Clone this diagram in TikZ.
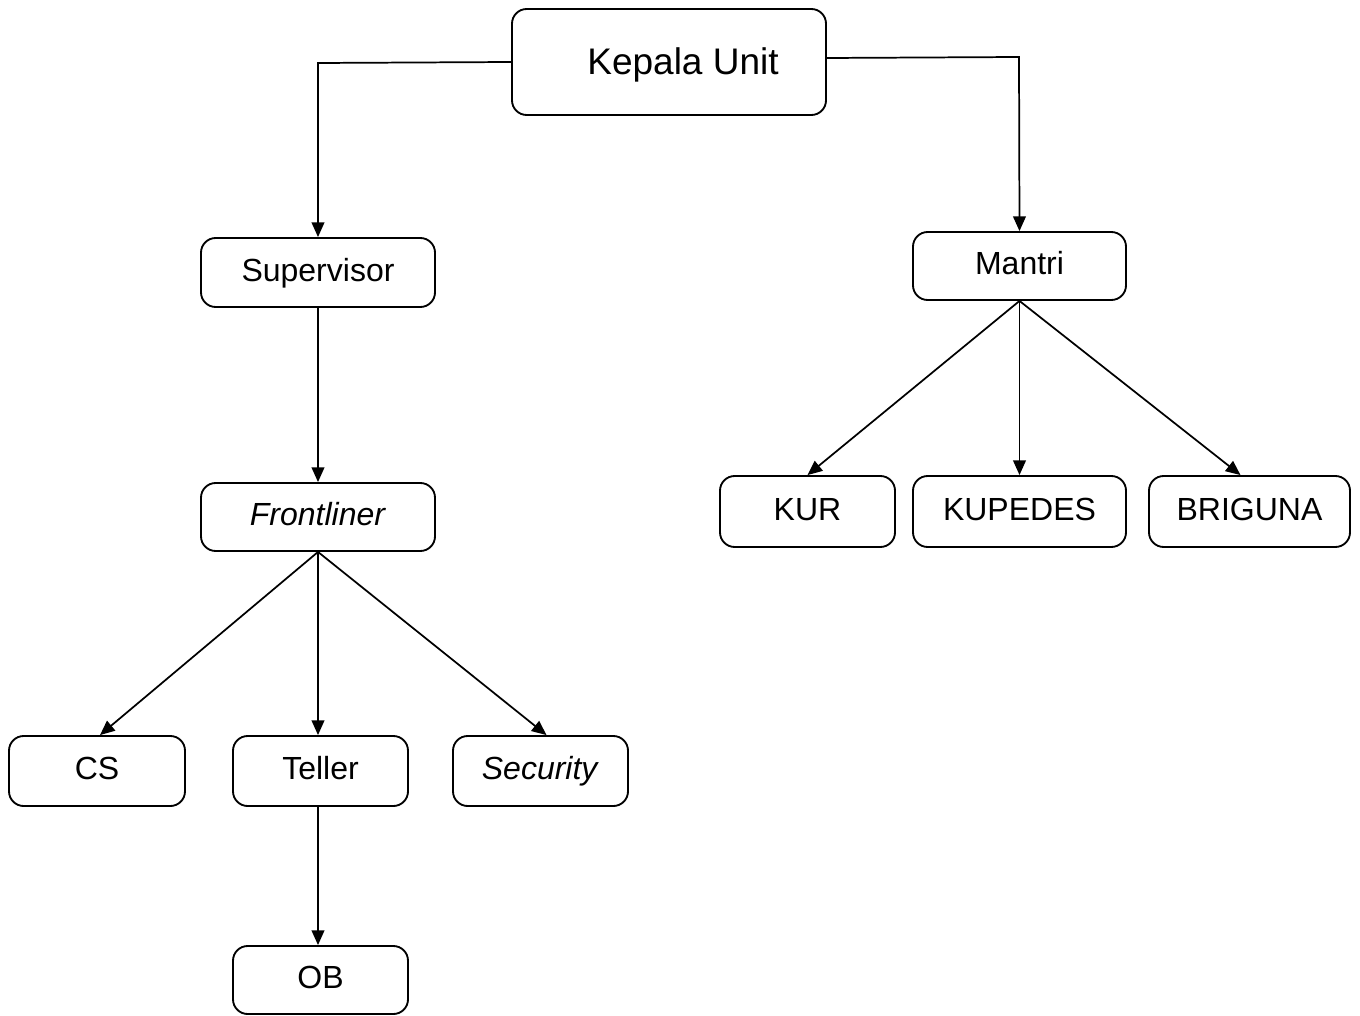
\documentclass[tikz,border=0pt]{standalone}
\usepackage{fontspec}
\setmainfont{Liberation Sans}
\usetikzlibrary{arrows.meta}
\begin{document}
\begin{tikzpicture}[x=0.75pt,y=-0.75pt,
  box/.style={draw=black,line width=1.4pt,rounded corners=11pt,inner sep=0pt,
    font=\fontsize{24}{28}\selectfont,text height=18pt,text depth=5.2pt},
  arr/.style={line width=1.3pt,-{Triangle[length=11pt,width=9.5pt]}}]
\useasboundingbox (0,0) rectangle (1360,1016);
\def\u{0.75pt}
\node[box,minimum width=314*\u,minimum height=106*\u,font=\fontsize{27.75}{32}\selectfont,text height=22pt,text depth=2.5pt] (kepala) at (669,62) {\hspace*{21pt}Kepala Unit};
\node[box,minimum width=234*\u,minimum height=69*\u] (sup) at (318,272.5) {Supervisor};
\node[box,minimum width=234*\u,minimum height=68*\u] (front) at (318,517) {\textit{Frontliner}};
\node[box,minimum width=176*\u,minimum height=70*\u] (cs) at (97,771) {CS};
\node[box,minimum width=175*\u,minimum height=70*\u] (teller) at (320.5,771) {Teller};
\node[box,minimum width=175*\u,minimum height=70*\u] (sec) at (540.5,771) {\textit{Security}};
\node[box,minimum width=175*\u,minimum height=68*\u] (ob) at (320.5,980) {OB};
\node[box,minimum width=213*\u,minimum height=68*\u] (mantri) at (1019.5,266) {Mantri};
\node[box,minimum width=175*\u,minimum height=71*\u] (kur) at (807.5,511.5) {KUR};
\node[box,minimum width=213*\u,minimum height=71*\u] (kupedes) at (1019.5,511.5) {KUPEDES};
\node[box,minimum width=201*\u,minimum height=71*\u] (briguna) at (1249.5,511.5) {BRIGUNA};
\coordinate (kl) at (318,63);
\coordinate (kr) at (1019,57);
\draw[arr] (kepala.west) -- (kl) -- (sup.north);
\draw[arr] ([yshift=3pt]kepala.east) -- (kr) -- (mantri.north);
\draw[arr] (sup.south) -- (front.north);
\draw[arr] (front.south) -- ([xshift=2.25pt]cs.north);
\draw[arr] (front.south) -- (front.south |- teller.north);
\draw[arr] (front.south) -- ([xshift=4.5pt]sec.north);
\draw[arr] (teller.south -| front.south) -- (front.south |- ob.north);
\draw[arr] (mantri.south) -- (kur.north);
\draw[arr] (mantri.south) -- (kupedes.north);
\draw[arr] (mantri.south) -- ([xshift=-6.75pt]briguna.north);
\end{tikzpicture}
\end{document}
